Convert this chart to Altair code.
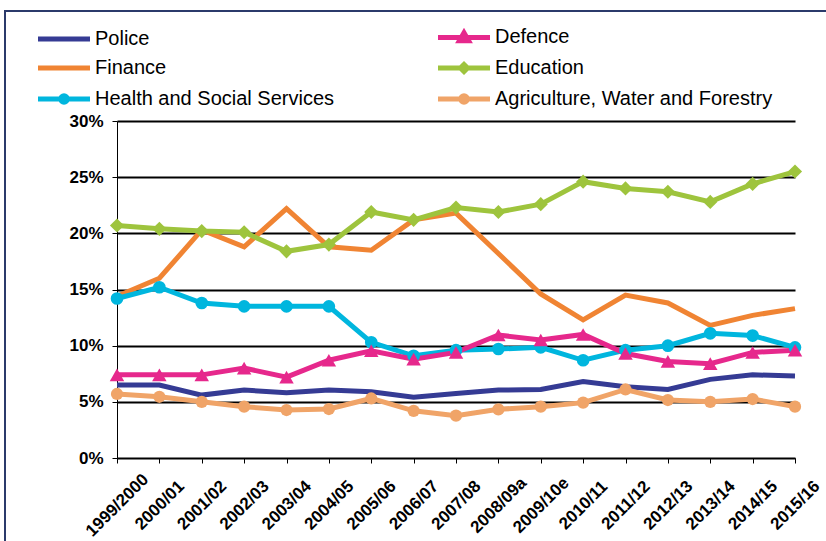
import math
import altair as alt
import pandas as pd

years = ["1999/2000", "2000/01", "2001/02", "2002/03", "2003/04", "2004/05",
         "2005/06", "2006/07", "2007/08", "2008/09a", "2009/10e", "2010/11",
         "2011/12", "2012/13", "2013/14", "2014/15", "2015/16"]

police = [6.5, 6.5, 5.6, 6.05, 5.8, 6.05, 5.9, 5.4, 5.75, 6.05, 6.1, 6.8, 6.35, 6.1, 7.0, 7.4, 7.3]
finance = [14.4, 16.0, 20.3, 18.8, 22.2, 18.8, 18.5, 21.2, 21.8, 18.2, 14.6, 12.3, 14.5, 13.8, 11.8, 12.7, 13.3]
health = [14.2, 15.2, 13.8, 13.5, 13.5, 13.5, 10.3, 9.1, 9.6, 9.7, 9.85, 8.7, 9.6, 10.0, 11.1, 10.9, 9.85]
defence = [7.4, 7.4, 7.4, 8.0, 7.2, 8.7, 9.55, 8.8, 9.4, 10.95, 10.5, 11.0, 9.3, 8.6, 8.4, 9.4, 9.6]
education = [20.7, 20.4, 20.2, 20.1, 18.4, 19.0, 21.9, 21.2, 22.3, 21.9, 22.6, 24.6, 24.0, 23.7, 22.8, 24.4, 25.5]
agriculture = [5.7, 5.45, 5.0, 4.57, 4.27, 4.36, 5.3, 4.2, 3.77, 4.33, 4.57, 4.93, 6.1, 5.16, 5.0, 5.25, 4.57]

series_names = ["Police", "Finance", "Health and Social Services",
                "Defence", "Education", "Agriculture, Water and Forestry"]
series_values = [police, finance, health, defence, education, agriculture]
series_colors = ["#353B94", "#F08433", "#00B6DE", "#E6288C", "#9EC43D", "#F0A468"]
series_shapes = ["none", "none", "circle", "triangle-up", "diamond", "circle"]
marker_sizes = [150, 150, 160, 210, 200, 150]

rows = []
for name, vals in zip(series_names, series_values):
    for y, v in zip(years, vals):
        rows.append({"year": y, "series": name, "value": v})
df = pd.DataFrame(rows)

# legend symbol paths (unit space, scaled by the legend symbol size): line + marker
LINE = "M-4,0L4,0"
circ = "M" + "L".join(f"{0.5*math.cos(a*math.pi/8):.3f},{0.5*math.sin(a*math.pi/8):.3f}" for a in range(16)) + "Z"
marker_paths = {
    "none": "",
    "circle": circ,
    "triangle-up": "M0,-0.7L0.7,0.5L-0.7,0.5Z",
    "diamond": "M0,-0.55L0.55,0L0,0.55L-0.55,0Z",
}
shape_expr = "'" + LINE + "'"
for name, shp in zip(series_names, series_shapes):
    shape_expr = f"datum.value === '{name}' ? '{LINE + marker_paths[shp]}' : (" + shape_expr + ")"

FONT = "Liberation Sans"

x_enc = alt.X("year:N", sort=years, scale=alt.Scale(padding=0),
              axis=alt.Axis(title=None, labelAngle=315, labelAlign="center", labelBaseline="middle",
                            labelFont=FONT, labelFontSize=17, labelFontWeight="bold", labelColor="black",
                            labelPadding=42, tickSize=5, tickColor="black", domainColor="black",
                            domainWidth=1, grid=False))
y_enc = alt.Y("value:Q", scale=alt.Scale(domain=[0, 30], nice=False),
              axis=alt.Axis(title=None, values=[0, 5, 10, 15, 20, 25, 30],
                            labelExpr="datum.value + '%'", labelFont=FONT, labelFontSize=17,
                            labelFontWeight="bold", labelColor="black", labelPadding=9,
                            tickSize=5, tickColor="black", domainColor="black", domainWidth=1,
                            grid=True, gridColor="black", gridWidth=2))

legend = alt.Legend(orient="none", columns=2, columnPadding=93, rowPadding=3,
                    labelFont=FONT, labelFontSize=20, labelColor="black", title=None,
                    padding=0, labelLimit=500, legendX=-63, legendY=-94,
                    symbolSize=169, symbolStrokeWidth=5, labelOffset=21,
                    symbolType=alt.ExprRef(expr=shape_expr),
                    symbolFillColor=alt.ExprRef(expr="scale('color', datum.value)"))

lines = alt.Chart(df).mark_line(strokeWidth=5).encode(
    x=x_enc, y=y_enc,
    color=alt.Color("series:N", scale=alt.Scale(domain=series_names, range=series_colors),
                    legend=legend),
    order=alt.Order("year:N"),
)

marker_layers = []
for name, col, shp, sz in zip(series_names, series_colors, series_shapes, marker_sizes):
    if shp == "none":
        continue
    marker_layers.append(
        alt.Chart(df).transform_filter(alt.datum.series == name).mark_point(
            filled=True, opacity=1, shape=shp, size=sz, color=col
        ).encode(x=x_enc, y=y_enc)
    )

frame_df = pd.DataFrame({"a": [0]})
frame_left = alt.Chart(frame_df).mark_rule(color="#2B3A6B", strokeWidth=2).encode(
    x=alt.value(-112), y=alt.value(-110), y2=alt.value(420))
frame_top = alt.Chart(frame_df).mark_rule(color="#2B3A6B", strokeWidth=2).encode(
    x=alt.value(-113), x2=alt.value(709), y=alt.value(-110))

chart = alt.layer(frame_left, frame_top, lines, *marker_layers).properties(
    width=678, height=337,
    autosize=alt.AutoSizeParams(type="none"),
    padding={"left": 117, "top": 121, "right": 31, "bottom": 83},
    background="white",
).configure_view(stroke=None)

chart.save("out.html", embed_options={"renderer": "svg", "actions": False})
